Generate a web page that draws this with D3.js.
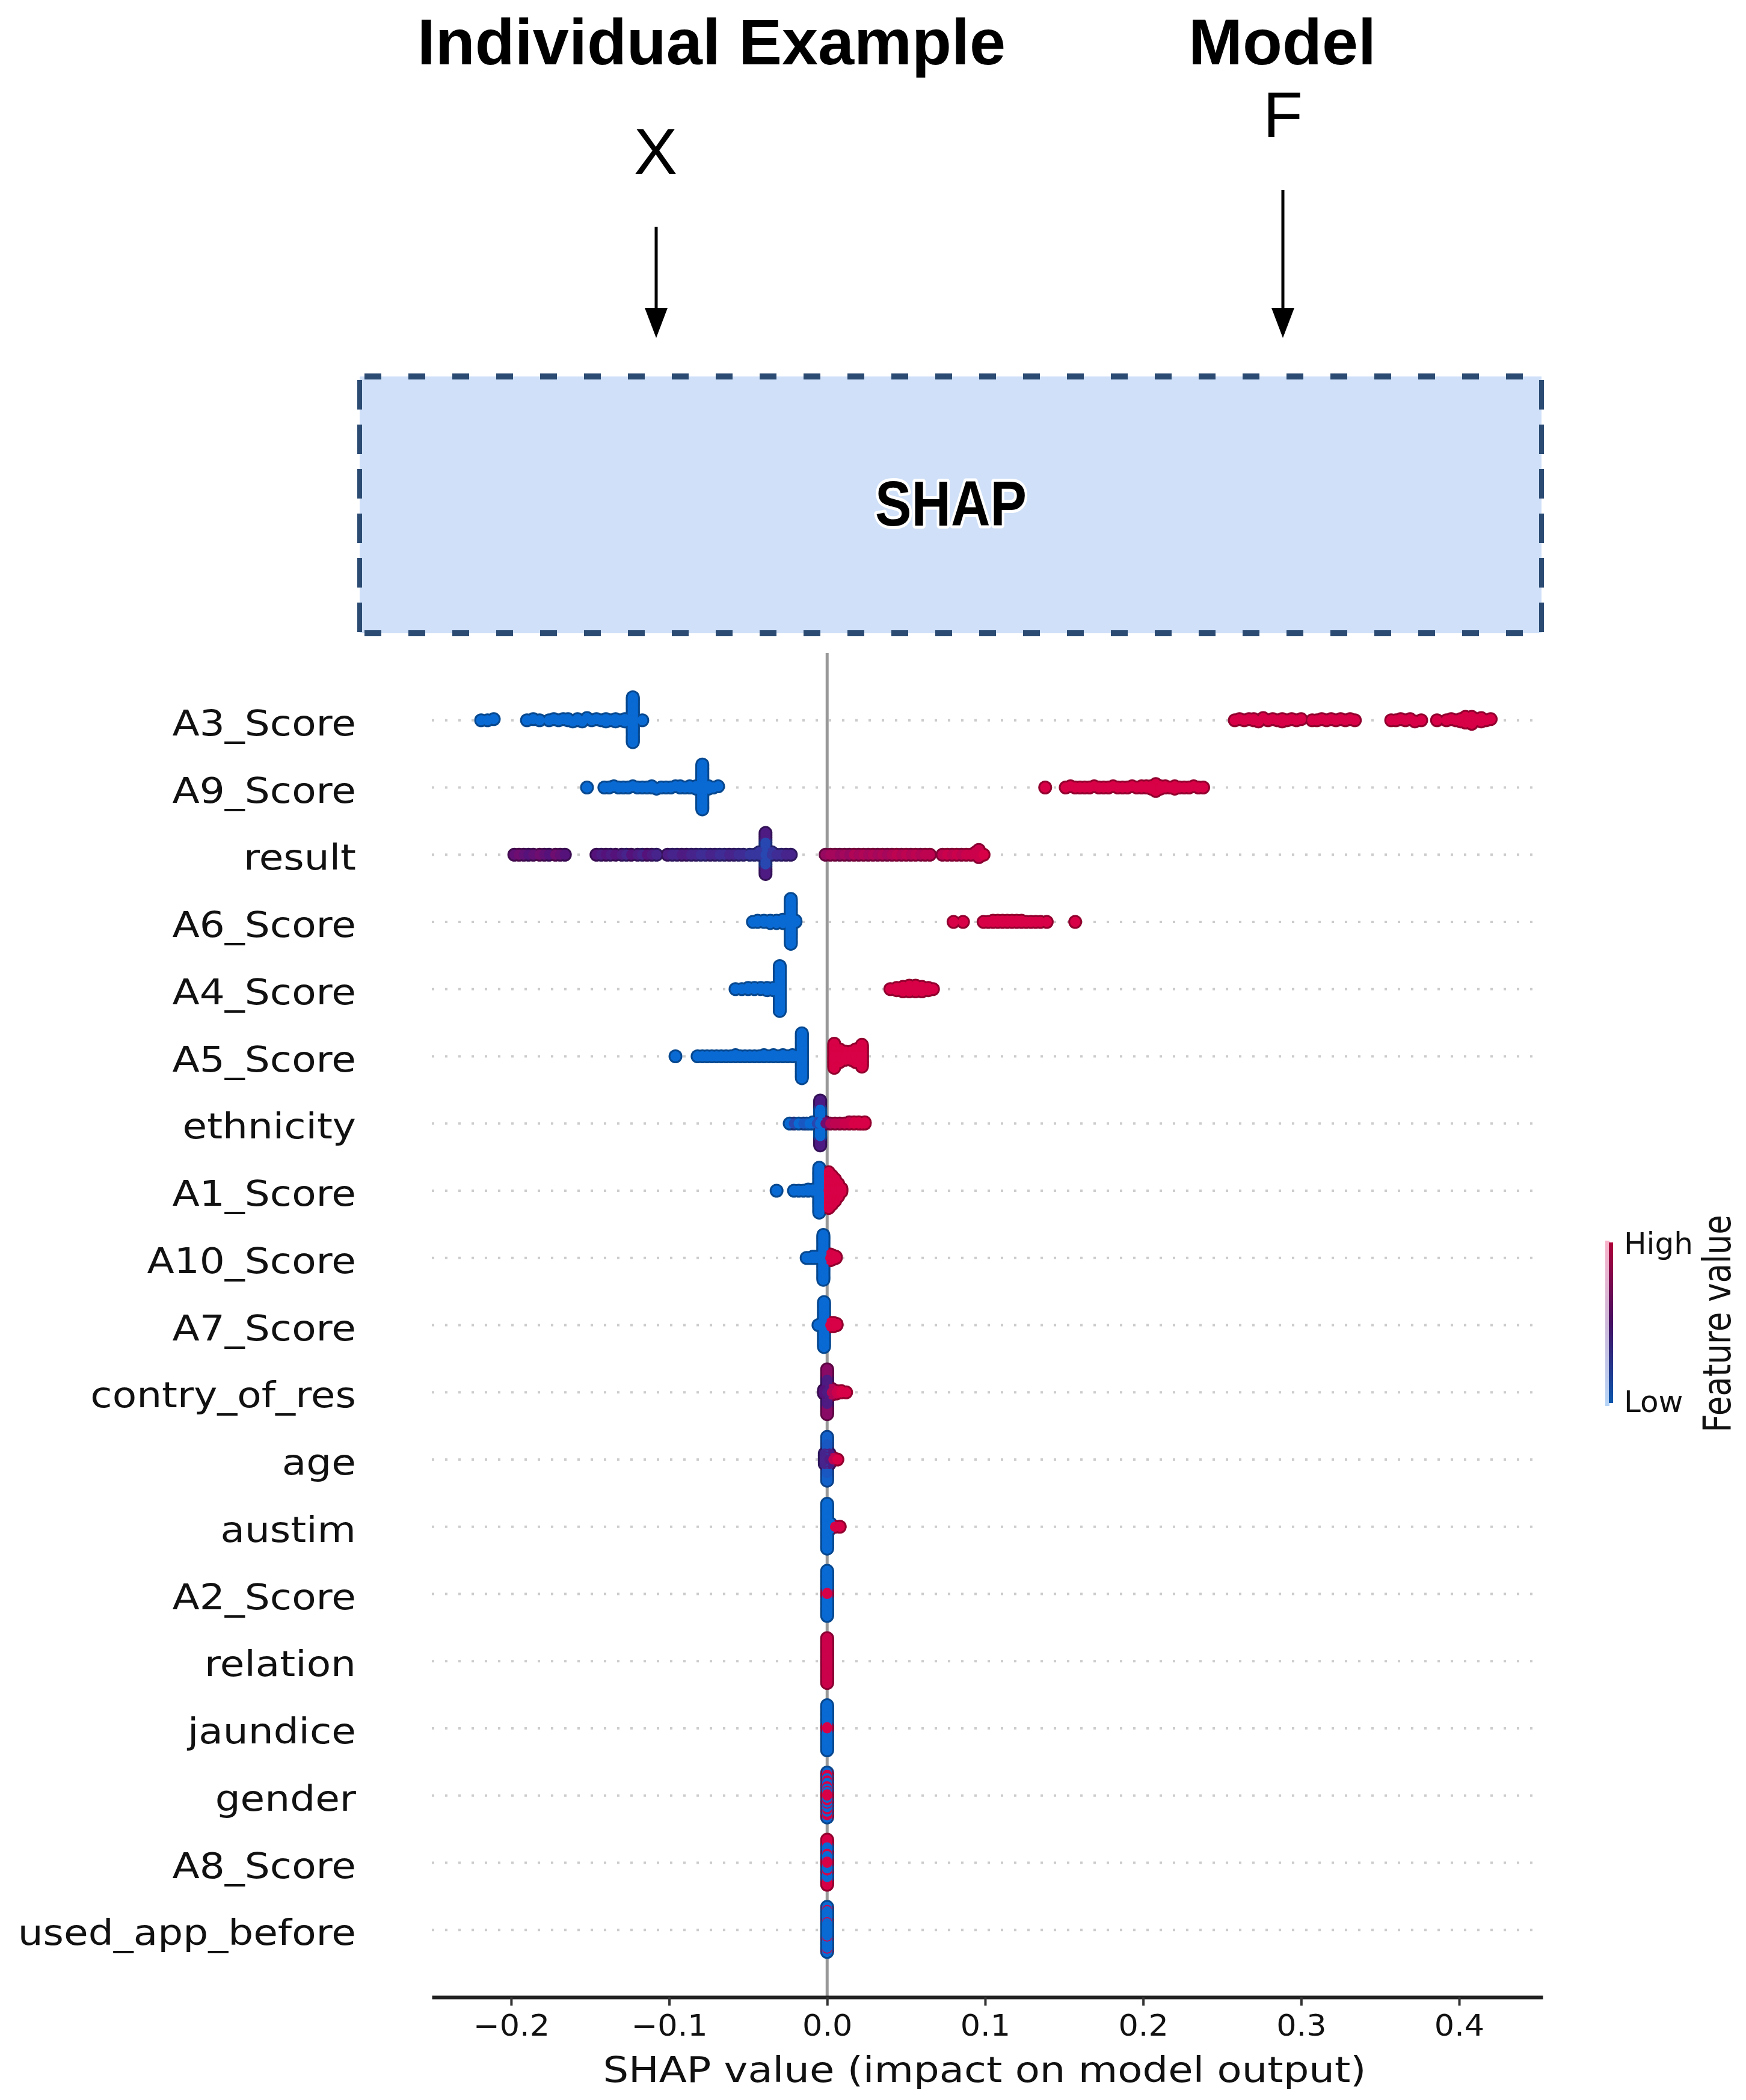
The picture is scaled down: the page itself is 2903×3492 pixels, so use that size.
<!DOCTYPE html>
<html><head><meta charset="utf-8">
<script src="https://cdn.jsdelivr.net/npm/d3@7"></script>
<style>html,body{margin:0;padding:0;background:#fff;} svg{display:block;}</style>
</head><body>
<svg id="chart" width="2903" height="3492"></svg>
<script>
// ---------------- DATA ----------------
const features = ["A3_Score","A9_Score","result","A6_Score","A4_Score","A5_Score","ethnicity","A1_Score","A10_Score","A7_Score","contry_of_res","age","austim","A2_Score","relation","jaundice","gender","A8_Score","used_app_before"];
const xTicks = [-0.2,-0.1,0.0,0.1,0.2,0.3,0.4];
const xLabel = "SHAP value (impact on model output)";
const colorbarLabels = ["Low","High"];
const colorbarTitle = "Feature value";
const diagramTitles = ["Individual Example","Model"];
const diagramSymbols = ["X","F"];
const boxLabel = "SHAP";

// each entry: [SHAP value, number of samples at that value, feature value 0(low)..1(high)]
const pts_A3_Score = [[-0.219,1,0],[-0.215,1,0],[-0.211,1,0],[-0.190,1,0],[-0.186,1,0],[-0.182,1,0],
 [-0.176,1,0],[-0.173,1,0],[-0.170,1,0],[-0.167,1,0],[-0.164,2,0],[-0.161,1,0],[-0.158,2,0],[-0.155,1,0],[-0.152,1,0],[-0.149,1,0],[-0.146,1,0],[-0.143,1,0],[-0.140,2,0],[-0.137,1,0],[-0.134,2,0],[-0.131,1,0],[-0.128,2,0],[-0.123,40,0],[-0.117,1,0],
 [0.258,1,1],[0.261,1,1],[0.264,1,1],[0.267,1,1],[0.270,2,1],[0.273,1,1],[0.276,1,1],[0.279,1,1],[0.282,1,1],[0.285,1,1],[0.288,2,1],[0.291,1,1],[0.294,1,1],[0.297,1,1],[0.300,1,1],
 [0.307,1,1],[0.310,1,1],[0.313,1,1],[0.316,1,1],[0.319,1,1],[0.322,1,1],[0.325,1,1],[0.328,1,1],[0.331,1,1],[0.334,1,1],
 [0.357,1,1],[0.360,1,1],[0.363,1,1],[0.366,1,1],[0.369,1,1],[0.372,1,1],[0.376,1,1],[0.386,1,1],
 [0.392,1,1],[0.395,1,1],[0.398,1,1],[0.401,2,1],[0.404,3,1],[0.406,4,1],[0.408,3,1],[0.411,2,1],[0.414,2,1],[0.417,1,1],[0.420,1,1]];
const pts_A9_Score = [[-0.152,1,0],
 [-0.141,1,0],[-0.138,1,0],[-0.135,1,0],[-0.132,1,0],[-0.129,1,0],[-0.126,1,0],[-0.123,1,0],[-0.120,1,0],[-0.117,1,0],[-0.114,1,0],[-0.111,2,0],[-0.108,1,0],[-0.105,1,0],[-0.102,1,0],[-0.099,1,0],[-0.096,1,0],[-0.093,2,0],[-0.090,1,0],[-0.087,2,0],[-0.083,3,0],[-0.079,40,0],[-0.075,3,0],[-0.072,1,0],[-0.069,1,0],
 [0.138,1,1],
 [0.151,1,1],[0.154,1,1],[0.157,1,1],[0.160,1,1],[0.163,1,1],[0.166,1,1],[0.169,1,1],[0.172,1,1],[0.175,1,1],[0.178,1,1],[0.181,1,1],[0.184,1,1],[0.187,1,1],[0.190,1,1],[0.193,1,1],[0.196,1,1],[0.199,2,1],[0.202,2,1],[0.205,3,1],[0.208,4,1],[0.211,3,1],[0.214,2,1],[0.217,1,1],[0.220,2,1],[0.223,1,1],[0.226,1,1],[0.229,1,1],[0.232,1,1],[0.235,1,1],[0.238,1,1]];
const pts_result = [[-0.198,1,0.55],[-0.195,1,0.6],[-0.192,1,0.55],[-0.189,1,0.5],[-0.186,1,0.55],[-0.182,1,0.6],[-0.179,1,0.55],[-0.176,1,0.5],[-0.172,1,0.6],[-0.169,1,0.55],[-0.166,1,0.5],
 [-0.146,1,0.5],[-0.143,1,0.45],[-0.140,1,0.5],[-0.137,1,0.45],[-0.134,1,0.5],[-0.130,1,0.45],[-0.127,1,0.4],[-0.124,1,0.5],[-0.120,1,0.45],[-0.117,1,0.4],[-0.114,1,0.5],[-0.111,1,0.45],[-0.108,1,0.4],
 [-0.101,1,0.45],[-0.098,1,0.4],[-0.095,1,0.4],[-0.092,1,0.45],[-0.089,1,0.45],[-0.086,1,0.4],[-0.083,1,0.4],[-0.080,1,0.35],[-0.077,1,0.35],[-0.074,1,0.4],[-0.071,1,0.4],[-0.068,1,0.35],[-0.065,1,0.35],[-0.062,1,0.4],[-0.059,1,0.4],[-0.056,1,0.35],[-0.053,1,0.35],
 [-0.049,1,0.3],[-0.046,1,0.3],[-0.043,2,0.3],[-0.039,10,0.2],[-0.039,8,0.45],[-0.035,2,0.3],[-0.032,1,0.35],[-0.029,1,0.35],[-0.026,1,0.4],[-0.023,1,0.4],
 [-0.001,1,0.75],[0.002,1,0.8],[0.005,1,0.8],[0.008,1,0.75],[0.011,1,0.8],[0.014,1,0.75],[0.017,1,0.85],[0.020,1,0.8],[0.023,1,0.85],[0.026,1,0.8],[0.029,1,0.85],[0.032,1,0.8],[0.035,1,0.85],[0.038,1,0.8],[0.041,1,0.85],[0.044,1,0.9],[0.047,1,0.85],[0.050,1,0.9],[0.053,1,0.85],[0.056,1,0.9],[0.059,1,0.85],[0.062,1,0.9],[0.065,1,0.9],
 [0.073,1,0.9],[0.076,1,0.95],[0.079,1,0.9],[0.082,1,0.95],[0.085,1,0.9],[0.088,1,0.95],[0.091,1,0.95],[0.094,2,0.95],[0.096,4,0.95],[0.099,1,1]];
const pts_A6_Score = [[-0.047,1,0],[-0.044,2,0],[-0.040,2,0],[-0.036,3,0],[-0.032,3,0],[-0.028,4,0],[-0.023,40,0],[-0.020,2,0],
 [0.080,1,1],[0.086,1,1],
 [0.099,1,1],[0.102,1,1],[0.105,2,1],[0.108,2,1],[0.111,2,1],[0.114,2,1],[0.117,2,1],[0.120,2,1],[0.123,2,1],[0.126,1,1],[0.129,1,1],[0.132,1,1],[0.135,1,1],[0.139,1,1],[0.157,1,1]];
const pts_A4_Score = [[-0.058,1,0],[-0.054,1,0],[-0.050,2,0],[-0.046,2,0],[-0.042,2,0],[-0.038,3,0],[-0.034,3,0],[-0.030,40,0],
 [0.040,1,1],[0.044,3,1],[0.048,5,1],[0.052,6,1],[0.056,6,1],[0.060,5,1],[0.064,3,1],[0.067,1,1]];
const pts_A5_Score = [[-0.096,1,0],
 [-0.082,1,0],[-0.079,1,0],[-0.076,1,0],[-0.073,1,0],[-0.070,1,0],[-0.067,1,0],[-0.064,1,0],[-0.061,1,0],[-0.058,2,0],[-0.055,1,0],[-0.052,1,0],[-0.049,1,0],[-0.046,1,0],[-0.043,1,0],[-0.040,2,0],[-0.037,1,0],[-0.034,2,0],[-0.031,1,0],[-0.028,2,0],[-0.025,1,0],[-0.022,2,0],[-0.019,1,0],[-0.016,40,0],
 [0.0045,22,1],[0.008,12,1],[0.0115,8,1],[0.015,8,1],[0.018,12,1],[0.022,20,1]];
const pts_ethnicity = [[-0.0237,1,0],[-0.021,1,0.2],[-0.018,1,0],[-0.015,1,0.1],[-0.013,1,0.1],[-0.011,1,0],[-0.009,2,0],[-0.0065,2,0.2],
 [-0.0044,24,0],[-0.0044,16,0.45],
 [-0.001,2,0.6],[0.002,1,0.85],[0.005,1,0.9],[0.008,1,0.9],[0.011,1,0.95],[0.014,2,0.95],[0.017,2,1],[0.020,2,1],[0.022,1,1],[0.0238,2,1]];
const pts_A1_Score = [[-0.032,1,0],[-0.021,1,0],[-0.018,1,0],[-0.015,1,0],[-0.012,2,0],[-0.009,2,0],[-0.005,40,0],
 [0.001,32,1],[0.003,26,1],[0.005,20,1],[0.007,12,1],[0.009,4,1]];
const pts_A10_Score = [[-0.013,1,0],[-0.011,1,0],[-0.009,2,0],[-0.007,2,0],[-0.005,2,0],[-0.0024,40,0],[0.002,6,1],[0.0037,4,1],[0.0055,2,1]];
const pts_A7_Score = [[-0.0055,1,0],[-0.004,2,0],[-0.002,40,0],[0.002,4,1],[0.004,4,1],[0.006,2,1]];
const pts_contry_of_res = [[-0.002,4,0.5],[0.000,22,0.45],[0.000,18,0.7],[0.003,6,0.85],[0.006,3,0.95],[0.009,2,1],[0.012,1,1]];
const pts_age = [[0.000,20,0.1],[0.000,10,0.05],[-0.0015,8,0.4],[0.0015,8,0.45],[0.004,2,0.9],[0.0065,1,1]];
const pts_austim = [[0.000,40,0],[0.002,6,0],[0.005,1,1],[0.008,1,1]];
const pts_A2_Score = [[0.000,2,1],[0.000,40,0]];
const pts_relation = [[0.000,40,0.95]];
const pts_jaundice = [[0.000,2,1],[0.000,40,0]];
const pts_gender = [[0,2,1],[0,4,0],[0,3,1],[0,4,0],[0,3,1],[0,6,0],[0,4,1],[0,4,0],[0,6,1],[0,4,0]];
const pts_A8_Score = [[0,2,1],[0,10,0],[0,4,1],[0,12,0],[0,14,1]];
const pts_used_app_before = [[0,12,0],[0,2,1],[0,20,0],[0,2,1],[0,6,0]];

const featurePoints = [pts_A3_Score,pts_A9_Score,pts_result,pts_A6_Score,pts_A4_Score,pts_A5_Score,pts_ethnicity,pts_A1_Score,pts_A10_Score,pts_A7_Score,pts_contry_of_res,pts_age,pts_austim,pts_A2_Score,pts_relation,pts_jaundice,pts_gender,pts_A8_Score,pts_used_app_before];

// ---------------- RENDER ----------------
const svg = d3.select("#chart");
const W = 2903, H = 3492;
svg.append("rect").attr("width",W).attr("height",H).attr("fill","#fff");

const x = d3.scaleLinear().domain([-0.2502, 0.4529]).range([718, 2565]);
const y = d3.scaleLinear().domain([-1, 19]).range([1086, 3321]);
const rowPx = y(1) - y(0);
const cmap = d3.scaleLinear().domain([0,0.5,1]).range(["#0a6ad4","#55127a","#d80046"]).interpolate(d3.interpolateRgb);

const plotFont = "'DejaVu Sans', sans-serif";
const diagFont = "'Liberation Sans', Arial, sans-serif";

// ---- diagram on top ----
const diag = svg.append("g");
diag.append("text").attr("x",1183).attr("y",107).attr("text-anchor","middle")
  .attr("font-family",diagFont).attr("font-weight","bold").attr("font-size",108).text(diagramTitles[0]);
diag.append("text").attr("x",2132).attr("y",107).attr("text-anchor","middle")
  .attr("font-family",diagFont).attr("font-weight","bold").attr("font-size",108).text(diagramTitles[1]);
diag.append("text").attr("x",1090).attr("y",289).attr("text-anchor","middle")
  .attr("font-family",diagFont).attr("font-size",108).text(diagramSymbols[0]);
diag.append("text").attr("x",2133).attr("y",228).attr("text-anchor","middle")
  .attr("font-family",diagFont).attr("font-size",108).text(diagramSymbols[1]);
[[1091,377],[2133,316]].forEach(([ax,ay])=>{
  diag.append("line").attr("x1",ax).attr("x2",ax).attr("y1",ay).attr("y2",520).attr("stroke","#000").attr("stroke-width",5);
  diag.append("path").attr("d",`M${ax-19},512 L${ax+19},512 L${ax},562 Z`).attr("fill","#000");
});
// SHAP box
const bx0=598, bx1=2563, by0=626, by1=1053;
diag.append("rect").attr("x",bx0).attr("y",by0).attr("width",bx1-bx0).attr("height",by1-by0).attr("fill","#cfe0f8");
const bc = "#2b4b73";
[[by0],[by1]].forEach(([yy])=>{
  diag.append("line").attr("x1",bx0).attr("x2",bx1).attr("y1",yy).attr("y2",yy)
    .attr("stroke",bc).attr("stroke-width",10).attr("stroke-dasharray","28,45").attr("stroke-dashoffset",-8);
});
[[bx0],[bx1]].forEach(([xx])=>{
  diag.append("line").attr("x1",xx).attr("x2",xx).attr("y1",by0).attr("y2",by1)
    .attr("stroke",bc).attr("stroke-width",8).attr("stroke-dasharray","49,25").attr("stroke-dashoffset",-6);
});
diag.append("text").attr("x",1581).attr("y",874).attr("text-anchor","middle")
  .attr("font-family",diagFont).attr("font-weight","bold").attr("font-size",106)
  .attr("textLength",252).attr("lengthAdjust","spacingAndGlyphs")
  .attr("stroke","#fff").attr("stroke-width",10).attr("stroke-linejoin","round").attr("paint-order","stroke")
  .attr("fill","#000").text(boxLabel);

// ---- plot ----
const plot = svg.append("g");
plot.selectAll("line.grid").data(features).enter().append("line").attr("class","grid")
  .attr("x1",x.range()[0]).attr("x2",x.range()[1])
  .attr("y1",(d,i)=>y(i)).attr("y2",(d,i)=>y(i))
  .attr("stroke","#cccccc").attr("stroke-width",4).attr("stroke-dasharray","4,18");
plot.append("line").attr("x1",x(0)).attr("x2",x(0)).attr("y1",y(-1)).attr("y2",y(19))
  .attr("stroke","#999999").attr("stroke-width",5);

function swarm(points){
  const arr=[];
  points.forEach(([v,n,c])=>{ for(let k=0;k<n;k++) arr.push({v,c}); });
  const mn=d3.min(arr,d=>d.v), mx=d3.max(arr,d=>d.v);
  const nb=100;
  arr.forEach((d,i)=>{ d.q=Math.round(nb*(d.v-mn)/(mx-mn+1e-8)); d.i=i; });
  const sorted=arr.slice().sort((a,b)=>a.q-b.q||a.i-b.i);
  let layer=0,last=-1;
  sorted.forEach(d=>{ if(d.q!==last) layer=0; d.ys=Math.ceil(layer/2)*((layer%2)*2-1); layer++; last=d.q; });
  const maxY=d3.max(arr,d=>d.ys+1);
  arr.forEach(d=>{ d.off=d.ys*0.9*(0.4/maxY); });
  return arr;
}

featurePoints.forEach((pts,fi)=>{
  const dots = swarm(pts).sort((a,b)=>Math.abs(b.ys)-Math.abs(a.ys)||a.i-b.i);
  const g = plot.append("g");
  g.selectAll("circle.rim").data(dots).enter().append("circle").attr("class","rim")
    .attr("cx",d=>x(d.v)).attr("cy",d=>y(fi)-d.off*rowPx).attr("r",11.5)
    .attr("fill",d=>d3.color(cmap(d.c)).darker(1.1).formatHex());
  g.selectAll("circle.dot").data(dots).enter().append("circle").attr("class","dot")
    .attr("cx",d=>x(d.v)).attr("cy",d=>y(fi)-d.off*rowPx).attr("r",8.5)
    .attr("fill",d=>cmap(d.c));
});

plot.selectAll("text.flab").data(features).enter().append("text").attr("class","flab")
  .attr("transform",(d,i)=>`translate(592,${y(i)+25}) scale(1.14,1)`)
  .attr("text-anchor","end").attr("font-family",plotFont).attr("font-size",58).attr("fill","#111")
  .text(d=>d);

const axis = plot.append("g").attr("transform",`translate(0,${y(19)})`)
  .call(d3.axisBottom(x).tickValues(xTicks).tickFormat(d3.format(".1f")).tickSizeInner(14).tickSizeOuter(0));
axis.select(".domain").attr("stroke","#222").attr("stroke-width",6);
axis.selectAll(".tick line").attr("stroke","#333").attr("stroke-width",4);
axis.selectAll(".tick text").attr("y",0).attr("dy",0)
  .attr("transform","translate(0,64) scale(1.07,1)")
  .attr("font-family",plotFont).attr("font-size",49).attr("fill","#111");

plot.append("text").attr("transform","translate(1637,3462) scale(1.14,1)").attr("text-anchor","middle")
  .attr("font-family",plotFont).attr("font-size",59).attr("fill","#111").text(xLabel);

// colorbar
const defs = svg.append("defs");
const grad = defs.append("linearGradient").attr("id","cbgrad").attr("x1",0).attr("y1",1).attr("x2",0).attr("y2",0);
const gradPale = defs.append("linearGradient").attr("id","cbpale").attr("x1",0).attr("y1",1).attr("x2",0).attr("y2",0);
d3.range(0,1.0001,0.1).forEach(t=>{
  grad.append("stop").attr("offset",t).attr("stop-color",d3.color(cmap(t)).darker(0.6).formatHex());
  gradPale.append("stop").attr("offset",t).attr("stop-color",d3.color(cmap(t)).brighter(0.2).formatHex()).attr("stop-opacity",0.3);
});
const cbTop=2066, cbBot=2333;
svg.append("rect").attr("x",2669).attr("y",cbTop-3).attr("width",7).attr("height",cbBot-cbTop+8).attr("fill","url(#cbpale)");
svg.append("rect").attr("x",2675).attr("y",cbTop).attr("width",7).attr("height",cbBot-cbTop).attr("fill","url(#cbgrad)");
svg.append("text").attr("x",2700).attr("y",2085).attr("font-family",plotFont).attr("font-size",50).attr("fill","#111").text(colorbarLabels[1]);
svg.append("text").attr("x",2700).attr("y",2348).attr("font-family",plotFont).attr("font-size",50).attr("fill","#111").text(colorbarLabels[0]);
svg.append("text").attr("transform","translate(2877,2201) scale(1.2,1) rotate(-90)").attr("text-anchor","middle")
  .attr("font-family",plotFont).attr("font-size",53).attr("fill","#111").text(colorbarTitle);
</script>
</body></html>
